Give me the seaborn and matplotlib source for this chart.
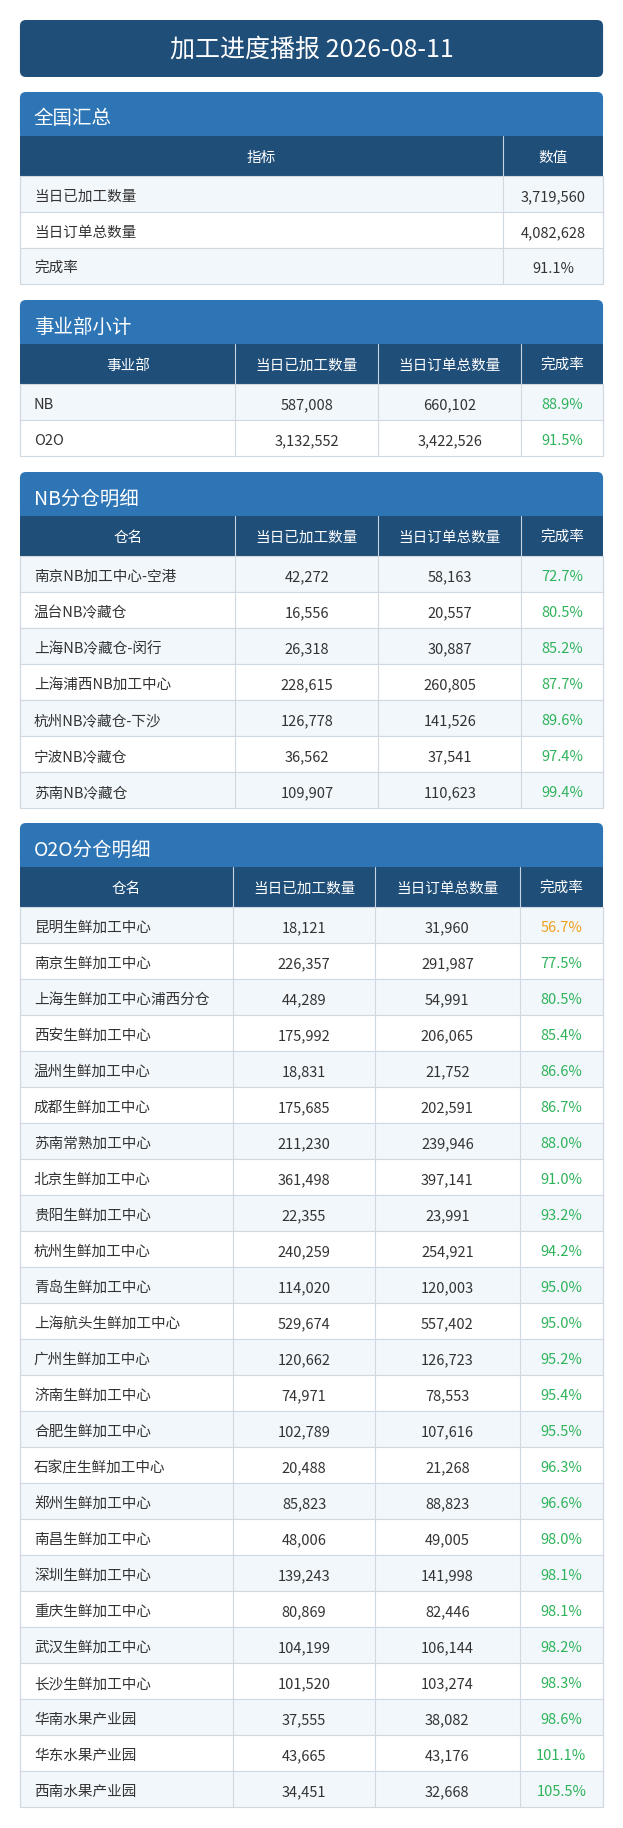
import matplotlib
matplotlib.use("Agg")
import matplotlib.pyplot as plt
import seaborn as sns
from matplotlib.patches import Rectangle, FancyBboxPatch

# ------------------------------------------------------------
# DATA
# ------------------------------------------------------------
title = "加工进度播报 2026-08-11"

summary_labels = ["当日已加工数量", "当日订单总数量", "完成率"]
summary_values = ["3,719,560", "4,082,628", "91.1%"]

bu_names = ["NB", "O2O"]
bu_done = [587008, 3132552]
bu_total = [660102, 3422526]

nb_names = ["南京NB加工中心-空港", "温台NB冷藏仓", "上海NB冷藏仓-闵行", "上海浦西NB加工中心",
            "杭州NB冷藏仓-下沙", "宁波NB冷藏仓", "苏南NB冷藏仓"]
nb_done = [42272, 16556, 26318, 228615, 126778, 36562, 109907]
nb_total = [58163, 20557, 30887, 260805, 141526, 37541, 110623]

o2o_names = ["昆明生鲜加工中心", "南京生鲜加工中心", "上海生鲜加工中心浦西分仓", "西安生鲜加工中心",
             "温州生鲜加工中心", "成都生鲜加工中心", "苏南常熟加工中心", "北京生鲜加工中心",
             "贵阳生鲜加工中心", "杭州生鲜加工中心", "青岛生鲜加工中心", "上海航头生鲜加工中心",
             "广州生鲜加工中心", "济南生鲜加工中心", "合肥生鲜加工中心", "石家庄生鲜加工中心",
             "郑州生鲜加工中心", "南昌生鲜加工中心", "深圳生鲜加工中心", "重庆生鲜加工中心",
             "武汉生鲜加工中心", "长沙生鲜加工中心", "华南水果产业园", "华东水果产业园", "西南水果产业园"]
o2o_done = [18121, 226357, 44289, 175992, 18831, 175685, 211230, 361498, 22355, 240259,
            114020, 529674, 120662, 74971, 102789, 20488, 85823, 48006, 139243, 80869,
            104199, 101520, 37555, 43665, 34451]
o2o_total = [31960, 291987, 54991, 206065, 21752, 202591, 239946, 397141, 23991, 254921,
             120003, 557402, 126723, 78553, 107616, 21268, 88823, 49005, 141998, 82446,
             106144, 103274, 38082, 43176, 32668]

detail_cols = ["当日已加工数量", "当日订单总数量", "完成率"]

# ------------------------------------------------------------
# STYLE
# ------------------------------------------------------------
sns.set_theme(style="white")
plt.rcParams['font.family'] = ['Noto Sans CJK SC', 'DejaVu Sans']

W, H = 623, 1828
NAVY = "#1f4e79"
BLUE = "#2e75b6"
ALT = "#f2f7fb"
GRID = "#d0d8e2"
TXT = "#333333"
GREEN = "#2eb35a"
ORANGE = "#f0a020"

fig = plt.figure(figsize=(W / 100, H / 100), dpi=100)
ax = fig.add_axes([0, 0, 1, 1])
ax.set_xlim(0, W)
ax.set_ylim(H, 0)
ax.axis("off")

X0, X1 = 0.032 * W, 0.968 * W
ROW = 36


def rate_color(r):
    return ORANGE if r < 60 else GREEN


def section(y, name, headers, bounds, rows, aligns, colors=None):
    # section header with rounded top
    ax.add_patch(FancyBboxPatch((X0, y), X1 - X0, 44, boxstyle="round,pad=0,rounding_size=6",
                                fc=BLUE, ec="none"))
    ax.add_patch(Rectangle((X0, y + 20), X1 - X0, 24, fc=BLUE, ec="none"))
    ax.text(X0 + 14, y + 27, name, color="white", fontsize=14, va="center")
    y += 44
    xs = [X0] + [b * W for b in bounds] + [X1]
    ax.add_patch(Rectangle((X0, y), X1 - X0, 40, fc=NAVY, ec="none"))
    for i, h in enumerate(headers):
        ax.text((xs[i] + xs[i + 1]) / 2, y + 22, h, color="white", fontsize=10.5,
                ha="center", va="center")
        if i > 0:
            ax.plot([xs[i], xs[i]], [y, y + 40], color="#c8d4e2", lw=0.8)
    y += 40
    for r, row in enumerate(rows):
        fc = ALT if r % 2 == 0 else "white"
        ax.add_patch(Rectangle((X0, y), X1 - X0, ROW, fc=fc, ec=GRID, lw=0.8))
        for i, val in enumerate(row):
            ax.plot([xs[i], xs[i]], [y, y + ROW], color=GRID, lw=0.8)
            col = TXT
            if colors is not None and i == len(row) - 1:
                col = colors[r]
            if aligns[i] == "left":
                ax.text(xs[i] + 14, y + ROW / 2 + 3, val, color=col, fontsize=10.5, va="center")
            else:
                ax.text((xs[i] + xs[i + 1]) / 2, y + ROW / 2 + 3, val, color=col, fontsize=10.5,
                        ha="center", va="center")
        ax.plot([X1, X1], [y, y + ROW], color=GRID, lw=0.8)
        y += ROW
    return y


# title
ax.add_patch(FancyBboxPatch((X0, 20), X1 - X0, 57, boxstyle="round,pad=0,rounding_size=6",
                            fc=NAVY, ec="none"))
ax.text(W / 2, 50, title, color="white", fontsize=18, ha="center", va="center")

# national summary
section(92, "全国汇总", ["指标", "数值"], [0.807],
        list(zip(summary_labels, summary_values)), ["left", "center"])


def build(names, done, total):
    rows, cols = [], []
    for n, d, t in zip(names, done, total):
        r = d / t * 100
        rows.append((n, f"{d:,}", f"{t:,}", f"{r:.1f}%"))
        cols.append(rate_color(r))
    return rows, cols


rows, cols = build(bu_names, bu_done, bu_total)
section(300, "事业部小计", ["事业部"] + detail_cols, [0.378, 0.607, 0.837], rows,
        ["left", "center", "center", "center"], cols)

rows, cols = build(nb_names, nb_done, nb_total)
section(472, "NB分仓明细", ["仓名"] + detail_cols, [0.378, 0.607, 0.837], rows,
        ["left", "center", "center", "center"], cols)

rows, cols = build(o2o_names, o2o_done, o2o_total)
section(823, "O2O分仓明细", ["仓名"] + detail_cols, [0.374, 0.602, 0.834], rows,
        ["left", "center", "center", "center"], cols)

fig.savefig("out.png", dpi=100, facecolor="white")
